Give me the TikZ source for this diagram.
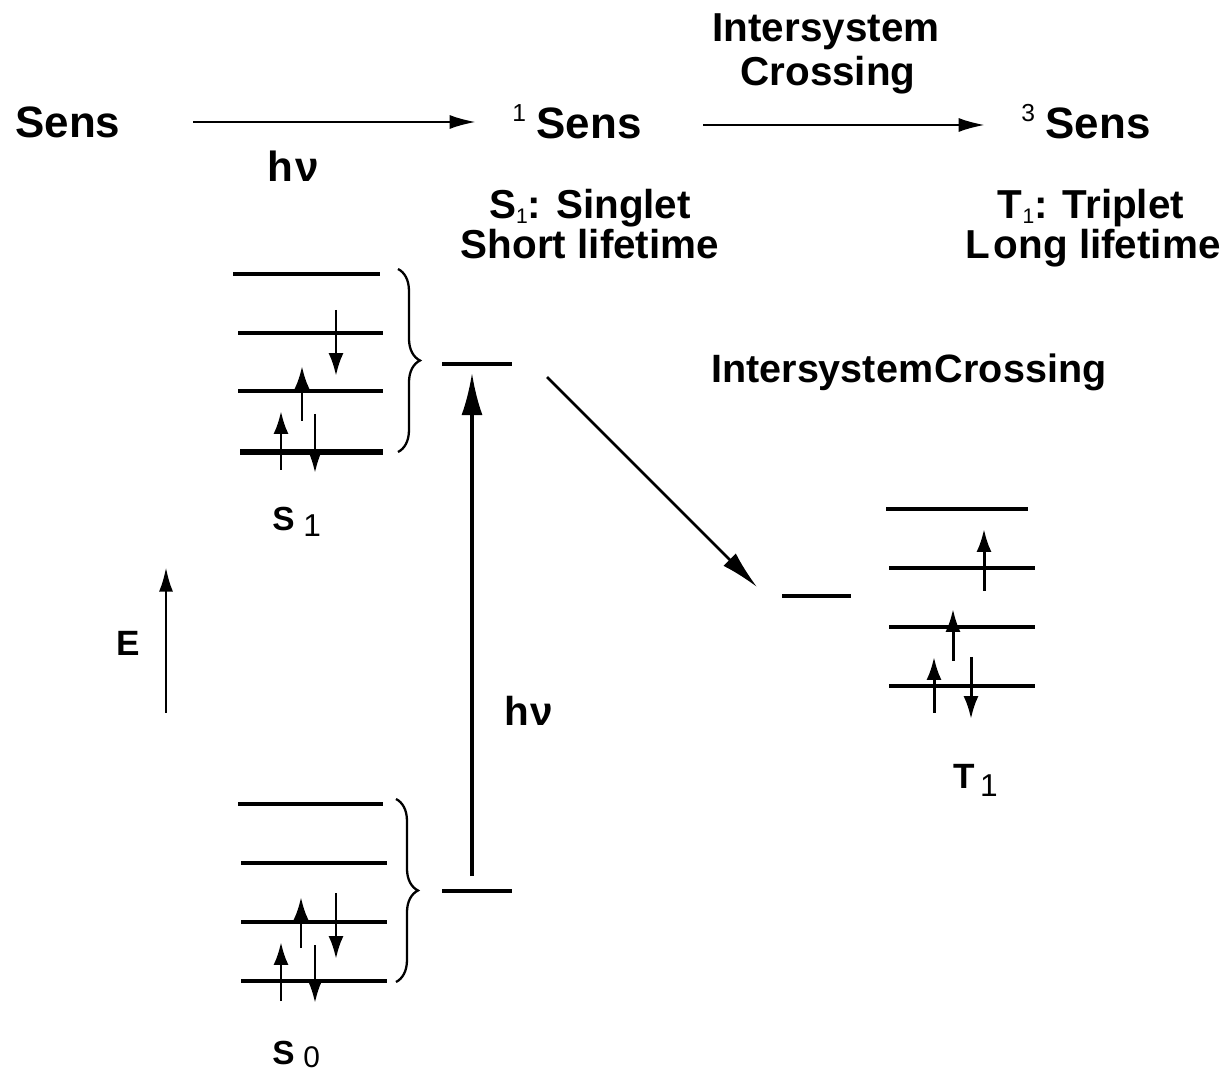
\documentclass[tikz,border=0pt]{standalone}
\usepackage{fontspec}
\setmainfont{Liberation Sans}
\usetikzlibrary{arrows.meta,decorations.pathreplacing}
\newcommand\fsz[1]{\fontsize{#1}{#1}\selectfont\bfseries}
\begin{document}
\begin{tikzpicture}[x=0.02cm,y=-0.02cm,
  txt/.style={inner sep=0pt, font=\fsz{23pt}},
  level/.style={line width=2pt},
  thicklevel/.style={line width=3.4pt},
  elec/.style={line width=1.7pt,-{Latex[length=13pt,width=8.5pt]}},
  rxn/.style={line width=1.5pt,-{Latex[length=15pt,width=8pt]}},
  bigarrow/.style={line width=1.8pt,-{Latex[length=24pt,width=12pt]}},
  brc/.style={line width=1.3pt,decorate,decoration={brace,amplitude=12.5pt}}]
\useasboundingbox[fill=white] (0,0) rectangle (1225,1074);

% ---- top reaction row
\node[txt, font=\fsz{25pt}, anchor=base west] (sens) at (15,138) {Sens};
\node[txt, font=\fsz{25pt}, anchor=base west] (sens1) at (512,139) {\raisebox{10pt}{\fontsize{14pt}{14pt}\selectfont\mdseries 1}\hspace{6pt}Sens};
\node[txt, font=\fsz{25pt}, anchor=base west] (sens3) at (1021,139) {\raisebox{10pt}{\fontsize{14pt}{14pt}\selectfont\mdseries 3}\hspace{6pt}Sens};
\coordinate (a1s) at (193,122);
\coordinate (a1e) at (476,122);
\coordinate (a2s) at (703,125);
\coordinate (a2e) at (985,125);
\draw[rxn] (a1s) -- (a1e);
\draw[rxn] (a2s) -- (a2e);
\node[txt, font=\fsz{24pt}, anchor=base] (hv1) at (293,182) {h\hspace{1pt}ν};
\node[txt, anchor=base] (isc1) at (826,42) {Intersystem};
\node[txt, anchor=base] (isc2) at (828,86) {Crossing};
\node[txt, anchor=base] (singlet) at (590,219) {S\raisebox{-2.5pt}{\fontsize{12pt}{12pt}\selectfont\mdseries 1}: Singlet};
\node[txt, anchor=base] (short) at (590,259) {Short lifetime};
\node[txt, anchor=base] (triplet) at (1091,219) {T\raisebox{-2.5pt}{\fontsize{12pt}{12pt}\selectfont\mdseries 1}: Triplet};
\node[txt, anchor=base] (long) at (1093,259) {L\hspace{2pt}ong lifetime};

% ---- S1 manifold
\draw[level] (233,274) -- (380,274);
\draw[level] (238,333) -- (383,333);
\draw[level] (238,391) -- (383,391);
\draw[thicklevel] (240,452) -- (383,452);
\draw[elec] (336,310) -- (336,376);
\draw[elec] (302,421) -- (302,366);
\draw[elec] (281,470) -- (281,411);
\draw[elec] (315,414) -- (315,473);
\draw[brc] (398,269) -- (398,452);
\node[txt, font=\fsz{19pt}, anchor=base west] (s1lab) at (272,531) {S\hspace{5pt}\raisebox{-3pt}{\fontsize{18pt}{18pt}\selectfont\mdseries 1}};

% ---- S0 manifold
\draw[level] (238,804) -- (383,804);
\draw[level] (241,863) -- (387,863);
\draw[level] (241,922) -- (387,922);
\draw[level] (241,981) -- (387,981);
\draw[elec] (301,948) -- (301,897);
\draw[elec] (336,893) -- (336,959);
\draw[elec] (281,1001) -- (281,942);
\draw[elec] (315,945) -- (315,1003);
\draw[brc] (396,799) -- (396,982);
\node[txt, font=\fsz{19pt}, anchor=base west] (s0lab) at (272,1064) {S\hspace{5pt}\raisebox{-2pt}{\fontsize{17pt}{17pt}\selectfont\mdseries 0}};

% ---- effective levels and excitation
\draw[level] (442,364) -- (512,364);
\draw[level] (442,891) -- (512,891);
\coordinate (exs) at (472,876);
\coordinate (exe) at (472,373);
\draw[bigarrow] (exs) -- (exe);
\node[txt, font=\fsz{23pt}, anchor=base] (hv2) at (529,725) {h\hspace{1pt}ν};

% ---- energy axis
\coordinate (es) at (166,713);
\coordinate (ee) at (166,567);
\draw[line width=1.7pt,-{Latex[length=14pt,width=8pt]}] (es) -- (ee);
\node[txt, font=\fsz{20pt}] (elab) at (128,643) {E};

% ---- intersystem crossing
\node[txt, font=\fsz{22.5pt}, anchor=base west] (isc3) at (711,383) {Intersystem\hspace{1pt}Crossing};
\coordinate (ds) at (547,377);
\coordinate (de) at (757,587);
\draw[line width=1.5pt,-{Latex[length=22pt,width=10pt]}] (ds) -- (de);

% ---- T1 manifold
\draw[level] (782,596) -- (851,596);
\draw[level] (886,509) -- (1028,509);
\draw[level] (889,568) -- (1035,568);
\draw[level] (889,627) -- (1035,627);
\draw[level] (889,686) -- (1035,686);
\draw[elec] (984,591) -- (984,529);
\draw[elec] (953,661) -- (953,609);
\draw[elec] (934,713) -- (934,657);
\draw[elec] (971,657) -- (971,719);
\node[txt, font=\fsz{20pt}, anchor=base west] (t1lab) at (953,788) {T\hspace{3pt}\raisebox{-5pt}{\fontsize{18pt}{18pt}\selectfont\mdseries 1}};
\end{tikzpicture}
\end{document}
